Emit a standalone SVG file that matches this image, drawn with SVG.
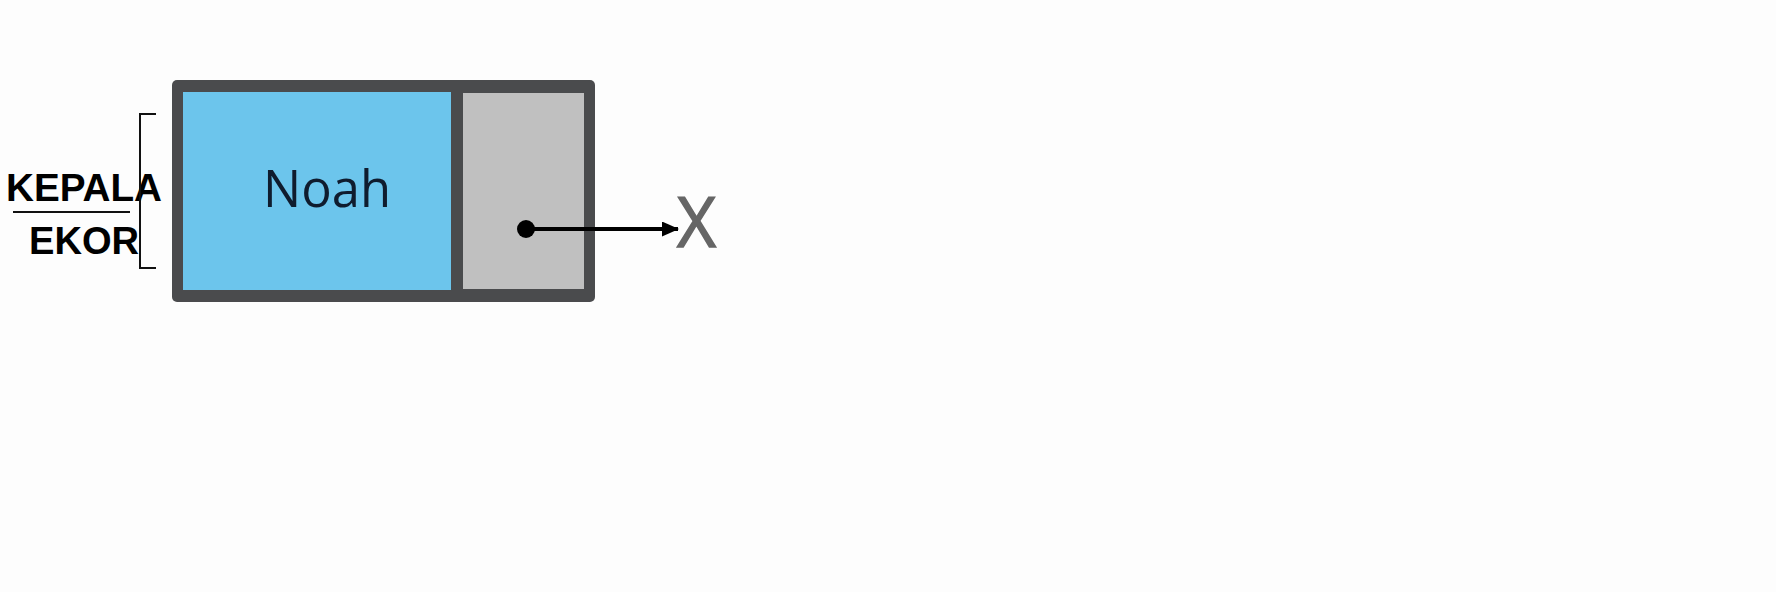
<svg xmlns="http://www.w3.org/2000/svg" width="1776" height="592" viewBox="0 0 1776 592">
<defs>
<style>
.lbl{font-family:"Liberation Sans",Arial,sans-serif;font-weight:bold;font-size:39px;fill:#000}
.bracket{fill:none;stroke:#111;stroke-width:2}
.conn{stroke:#000;stroke-width:4;fill:none}
</style>
<marker id="arr" markerWidth="17" markerHeight="15" refX="16" refY="7.5" orient="auto" markerUnits="userSpaceOnUse">
<path d="M0,0 L17,7.5 L0,15 Z" fill="#000"/>
</marker>
</defs>
<rect width="1776" height="592" fill="#fdfdfd"/>
<g id="label-kepala-ekor">
<text class="lbl" x="6" y="201" textLength="156" lengthAdjust="spacingAndGlyphs">KEPALA</text>
<line x1="13" y1="212" x2="130" y2="212" stroke="#111" stroke-width="2"/>
<text class="lbl" x="29" y="254" textLength="110" lengthAdjust="spacingAndGlyphs">EKOR</text>
<path class="bracket" d="M156,114 H140 V268 H156"/>
</g>
<g id="node-noah">
<rect x="172" y="80" width="423" height="222" rx="5" fill="#4a4b4d"/>
<rect x="183" y="92" width="268" height="198" fill="#6cc5ec"/>
<rect x="463" y="93" width="121" height="196" fill="#c0c0c0"/>
<text x="327" y="207" text-anchor="middle" font-family="'Open Sans','Noto Sans',sans-serif" font-size="51" fill="#0f1c2e" textLength="128" lengthAdjust="spacingAndGlyphs">Noah</text>
</g>
<g id="node-null">
<text x="677" y="247" font-family="'Open Sans','Noto Sans',sans-serif" font-size="69" fill="#666" stroke="#666" stroke-width="1.5" textLength="39" lengthAdjust="spacingAndGlyphs">X</text>
</g>
<g id="connectors">
<circle cx="526" cy="229" r="9" fill="#000"/>
<line class="conn" x1="526" y1="229" x2="678" y2="229" marker-end="url(#arr)"/>
</g>
</svg>
